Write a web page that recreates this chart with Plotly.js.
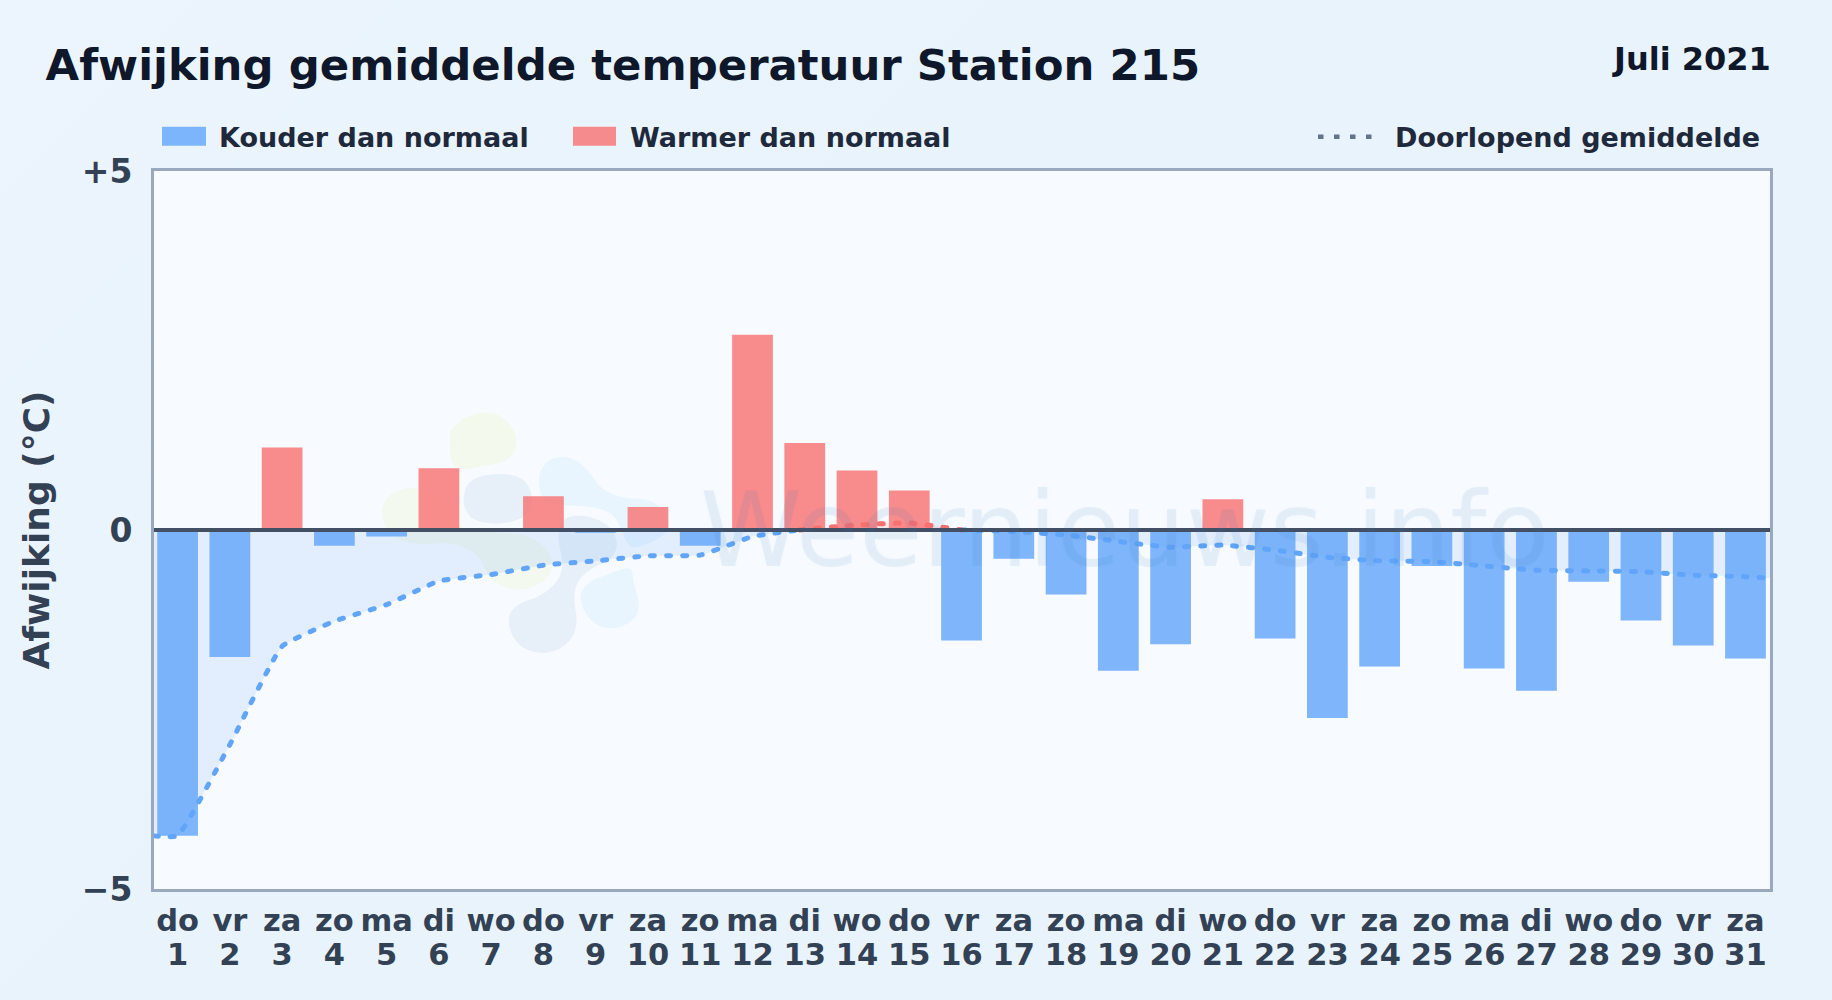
<!DOCTYPE html>
<html>
<head>
<meta charset="utf-8">
<script src="https://cdn.plot.ly/plotly-3.0.1.min.js"></script>
<style>
html,body{margin:0;padding:0;width:1832px;height:1000px;overflow:hidden;
background:linear-gradient(135deg,#ecf5fd 0%,#e8f3fc 45%,#e9f3fc 100%);}
#chart{width:1832px;height:1000px;}
.scatterlayer .js-line{stroke-linecap:round;}
</style>
</head>
<body>
<div id="chart"></div>
<script>
const weekdays = ["do","vr","za","zo","ma","di","wo","do","vr","za","zo","ma","di","wo","do","vr","za","zo","ma","di","wo","do","vr","za","zo","ma","di","wo","do","vr","za"];
const dayNumbers = [1,2,3,4,5,6,7,8,9,10,11,12,13,14,15,16,17,18,19,20,21,22,23,24,25,26,27,28,29,30,31];
const deviations = [-4.26,-1.77,1.15,-0.22,-0.09,0.86,0,0.47,-0.04,0.32,-0.22,2.72,1.21,0.83,0.55,-1.54,-0.40,-0.90,-1.96,-1.59,0.43,-1.51,-2.62,-1.90,-0.50,-1.93,-2.24,-0.72,-1.26,-1.61,-1.79];
const meanPositions = [-0.45,0,1,2,3,4,5,6,7,8,9,10,11,11.9,12,13,14,15,16,17,18,19,20,21,22,23,24,25,26,27,28,29,30,30.47];
const meanValues = [-4.26,-4.26,-2.99,-1.62,-1.27,-1.04,-0.71,-0.62,-0.49,-0.43,-0.36,-0.35,-0.09,0,0.01,0.07,0.10,0,-0.02,-0.07,-0.16,-0.24,-0.21,-0.28,-0.38,-0.43,-0.44,-0.50,-0.56,-0.57,-0.58,-0.63,-0.65,-0.67];
const yTickValues = [-5,0,5];
const yTickLabels = ["−5","0","+5"];
const titleText = "Afwijking gemiddelde temperatuur Station 215";
const periodText = "Juli 2021";
const yTitleText = "Afwijking (°C)";
const coldName = "Kouder dan normaal";
const warmName = "Warmer dan normaal";
const meanName = "Doorlopend gemiddelde";
const watermarkText = "Weernieuws.info";

const L=154,R=1770,T=171.3,B=889.3,W=1832,H=1000;
const blue="#60a5fa",red="#f87171";
const px=x=>(x-L)/(R-L), py=y=>(B-y)/(B-T);
const FF='"DejaVu Sans",sans-serif';
const xRange=[-0.4516,30.469];
const indices=dayNumbers.map((d,i)=>i);

function blob(pts,fill){
  const P=pts.map(p=>[370+p[0]/3,399+p[1]/3]);
  const m=(a,b)=>[(a[0]+b[0])/2,(a[1]+b[1])/2];
  let s=m(P[P.length-1],P[0]);
  let d="M"+s[0]+" "+s[1];
  P.forEach((p,i)=>{const n=m(p,P[(i+1)%P.length]);d+="Q"+p[0]+" "+p[1]+" "+n[0]+" "+n[1];});
  return '<path d="'+d+'Z" fill="'+fill+'"/>';
}
const logo=[
 blob([[240,90],[300,45],[380,38],[435,90],[442,150],[410,190],[330,205],[260,215],[240,180],[240,130]],"#f4f9ee"),
 blob([[28,340],[60,280],[140,262],[200,300],[270,390],[330,400],[480,405],[550,470],[545,530],[480,575],[400,570],[350,530],[330,470],[250,430],[130,440],[60,410]],"#f3f9ee"),
 blob([[278,290],[300,240],[380,222],[460,235],[490,290],[480,350],[400,378],[320,370],[285,340]],"#e7f0f8"),
 blob([[410,670],[430,620],[520,590],[570,540],[580,490],[560,410],[580,355],[650,348],[720,380],[745,430],[730,480],[660,510],[620,550],[610,600],[625,680],[590,745],[510,770],[440,740]],"#e7f0f8"),
 blob([[500,230],[540,175],[610,175],[660,220],[690,270],[760,300],[850,300],[900,360],[890,410],[800,450],[770,440],[740,350],[680,325],[600,320],[520,320]],"#e8f5ff"),
 blob([[625,600],[650,550],[720,525],[785,500],[790,550],[812,625],[790,670],[720,695],[660,670]],"#e8f5ff")
].join("");
const logoSvg='<svg xmlns="http://www.w3.org/2000/svg" width="'+(R-L)+'" height="'+(B-T)+'" viewBox="'+L+' '+T+' '+(R-L)+' '+(B-T)+'">'+logo+'</svg>';

const barColors=deviations.map(v=>v<0?blue:red);
const traces=[
 {type:"bar",x:indices,y:deviations,width:0.78,marker:{color:barColors,opacity:0.8,line:{width:0}},hoverinfo:"y",showlegend:false},
 {type:"scatter",mode:"lines",x:meanPositions,y:meanValues.map(v=>v<=0?v:null),fill:"tozeroy",fillcolor:"rgba(96,165,250,0.14)",
  line:{color:blue,width:5,dash:"4px,12px",shape:"spline",smoothing:0.35},showlegend:false,hoverinfo:"skip"},
 {type:"scatter",mode:"lines",x:meanPositions,y:meanValues.map(v=>v>=0?v:null),fill:"tozeroy",fillcolor:"rgba(248,113,113,0.14)",
  line:{color:red,width:5,dash:"4px,12px",shape:"spline",smoothing:0.35},showlegend:false,hoverinfo:"skip"},
 {type:"scatter",mode:"lines",xaxis:"x2",yaxis:"y",x:indices,y:indices.map(()=>null),showlegend:false,hoverinfo:"skip"}
];
const ann=(text,x,y,size,color,xa,ya,extra)=>Object.assign({xref:"paper",yref:"paper",x:px(x),y:py(y),text:text,showarrow:false,
  xanchor:xa,yanchor:ya,xshift:0,yshift:0,font:{family:FF,size:size,color:color,weight:700}},extra||{});
const tickFontX={family:FF,size:30.5,weight:700,color:"#334155"};
const layout={
 width:W,height:H,
 margin:{l:L,r:W-R,t:T,b:H-B,pad:0},
 paper_bgcolor:"rgba(0,0,0,0)",plot_bgcolor:"#f7fbff",
 font:{family:FF},
 showlegend:false,
 title:{text:titleText,x:45.6/W,xanchor:"left",xref:"container",yref:"container",y:1-65/H,yanchor:"middle",font:{family:FF,size:43.4,weight:700,color:"#0f172a"}},
 xaxis:{range:xRange,tickmode:"array",tickvals:indices,ticktext:weekdays,
  tickangle:0,ticks:"outside",ticklen:2,tickcolor:"rgba(0,0,0,0)",showgrid:false,zeroline:false,showline:true,mirror:true,linecolor:"#99a8bd",linewidth:3,
  tickfont:tickFontX,automargin:false},
 xaxis2:{range:xRange,overlaying:"x",side:"bottom",anchor:"y",tickmode:"array",tickvals:indices,ticktext:dayNumbers.map(String),
  tickangle:0,ticks:"outside",ticklen:38,tickcolor:"rgba(0,0,0,0)",showgrid:false,zeroline:false,showline:false,
  tickfont:tickFontX,automargin:false},
 yaxis:{range:[-5,5],tickmode:"array",tickvals:yTickValues,ticktext:yTickLabels,ticks:"outside",ticklen:12,tickcolor:"rgba(0,0,0,0)",showgrid:false,zeroline:false,showline:true,mirror:true,
  linecolor:"#99a8bd",linewidth:3,tickfont:{family:FF,size:33,weight:700,color:"#334155"},automargin:false,
  title:{text:yTitleText,standoff:22,font:{family:FF,size:36,weight:700,color:"#334155"}}},
 shapes:[
  {type:"line",xref:"paper",yref:"y",x0:0,x1:1,y0:0,y1:0,line:{color:"#434f64",width:4},layer:"above"},
  {type:"rect",xref:"paper",yref:"paper",x0:px(162),x1:px(206),y0:py(127),y1:py(146),fillcolor:blue,opacity:0.8,line:{width:0}},
  {type:"rect",xref:"paper",yref:"paper",x0:px(573),x1:px(616),y0:py(127),y1:py(146),fillcolor:red,opacity:0.8,line:{width:0}},
  {type:"line",xref:"paper",yref:"paper",x0:px(1318),x1:px(1373),y0:py(137),y1:py(137),line:{color:"#64748b",width:4.5,dash:"5.5px,10.5px"}}
 ],
 images:[{source:"data:image/svg+xml;charset=utf-8,"+encodeURIComponent(logoSvg),xref:"paper",yref:"paper",x:0,y:1,sizex:1,sizey:1,xanchor:"left",yanchor:"top",sizing:"stretch",layer:"below"}],
 annotations:[
  ann(periodText,1772.5,59,32,"#0f172a","right","middle"),
  ann(coldName,217,137.6,27,"#1e293b","left","middle"),
  ann(warmName,628,137.6,27,"#1e293b","left","middle"),
  ann(meanName,1393,137.6,27,"#1e293b","left","middle"),
  {xref:"paper",yref:"paper",x:px(1124),y:py(530),text:watermarkText,showarrow:false,xanchor:"center",yanchor:"middle",
   font:{family:FF,size:103,color:"rgba(60,126,192,0.09)",shadow:"0 0 4px rgba(60,126,192,0.18)"}}
 ]
};
Plotly.newPlot("chart",traces,layout,{displayModeBar:false,responsive:false});
</script>
</body>
</html>
